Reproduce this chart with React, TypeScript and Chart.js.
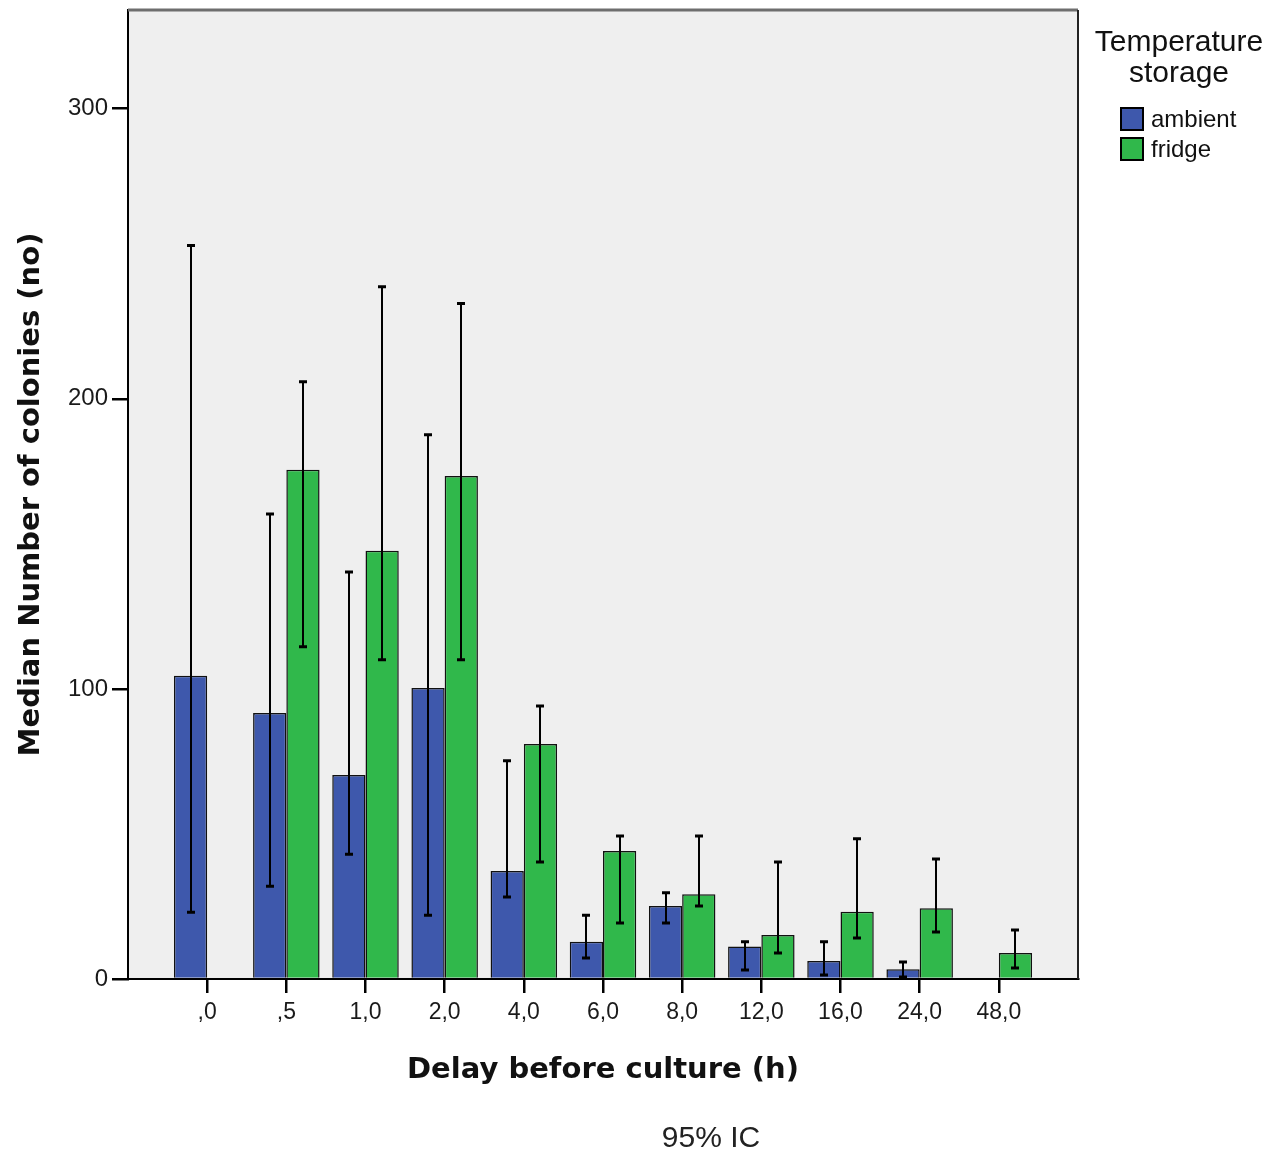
import React, { useEffect, useRef } from "react";
import { Chart, registerables } from "chart.js";

Chart.register(...registerables);

const categories = [",0", ",5", "1,0", "2,0", "4,0", "6,0", "8,0", "12,0", "16,0", "24,0", "48,0"];
const ambient = [104.5, 91.7, 70.3, 100.3, 37.2, 12.8, 25.2, 11.2, 6.2, 3.4, null];
const ambientLow = [23, 32, 43, 22, 28.3, 7.2, 19.3, 3.1, 1.4, 0.7, null];
const ambientHigh = [252.8, 160.3, 140.3, 187.6, 75.2, 22, 29.7, 12.8, 12.8, 5.9, null];
const fridge = [null, 175.5, 147.6, 173.4, 81, 44.1, 29.2, 15.2, 23.2, 24.4, 9];
const fridgeLow = [null, 114.5, 110, 110, 40.3, 19.3, 25.2, 9, 14.1, 16.2, 3.8];
const fridgeHigh = [null, 205.9, 238.6, 232.8, 94.1, 49.3, 49.3, 40.3, 48.3, 41.4, 16.9];
const yTicks = [0, 100, 200, 300];
const yMax = 334;

const seriesNames = ["ambient", "fridge"];
const seriesColors = ["#3e58ac", "#30b84b"];
const legendTitle = ["Temperature", "storage"];
const footerText = "95% IC";

const FONT = "'Liberation Sans', Arial, sans-serif";
const TITLE_FONT = "'DejaVu Sans', Verdana, sans-serif";

const pad = (arr: (number | null)[]) => [null, ...arr, null];

const errorBarPlugin = {
  id: "errorBars",
  afterDatasetsDraw(chart: any) {
    const { ctx } = chart;
    const yScale = chart.scales.y;
    const lows = [pad(ambientLow), pad(fridgeLow)];
    const highs = [pad(ambientHigh), pad(fridgeHigh)];
    ctx.save();
    ctx.strokeStyle = "#000";
    chart.data.datasets.forEach((_: any, di: number) => {
      const meta = chart.getDatasetMeta(di);
      meta.data.forEach((el: any, i: number) => {
        const lo = lows[di][i];
        const hi = highs[di][i];
        if (lo == null || hi == null) return;
        const x = Math.round(el.x);
        const yl = yScale.getPixelForValue(lo);
        const yh = yScale.getPixelForValue(hi);
        ctx.lineWidth = 2;
        ctx.beginPath();
        ctx.moveTo(x, yl);
        ctx.lineTo(x, yh);
        ctx.stroke();
        ctx.lineWidth = 3;
        ctx.beginPath();
        ctx.moveTo(x - 4, yl);
        ctx.lineTo(x + 4, yl);
        ctx.moveTo(x - 4, yh);
        ctx.lineTo(x + 4, yh);
        ctx.stroke();
      });
    });
    ctx.restore();
  },
};

const framePlugin = {
  id: "frame",
  beforeDraw(chart: any) {
    const { ctx, chartArea: a } = chart;
    ctx.save();
    ctx.fillStyle = "#ffffff";
    ctx.fillRect(0, 0, chart.width, chart.height);
    ctx.fillStyle = "#efefef";
    ctx.fillRect(a.left, a.top, a.right - a.left, a.bottom - a.top);
    ctx.restore();
  },
  afterDraw(chart: any) {
    const { ctx, chartArea: a } = chart;
    ctx.save();
    ctx.strokeStyle = "#6e6e6e";
    ctx.lineWidth = 3;
    ctx.beginPath();
    ctx.moveTo(a.left, a.top);
    ctx.lineTo(a.right, a.top);
    ctx.stroke();
    ctx.strokeStyle = "#222";
    ctx.lineWidth = 2;
    ctx.beginPath();
    ctx.moveTo(a.right, a.top);
    ctx.lineTo(a.right, a.bottom);
    ctx.stroke();

    // legend
    ctx.fillStyle = "#111";
    ctx.textAlign = "center";
    ctx.textBaseline = "middle";
    ctx.font = `30px ${FONT}`;
    ctx.fillText(legendTitle[0], 1179, 43);
    ctx.fillText(legendTitle[1], 1179, 74);
    ctx.textAlign = "left";
    ctx.font = `24px ${FONT}`;
    seriesNames.forEach((name, i) => {
      const y = 108 + i * 30;
      ctx.fillStyle = seriesColors[i];
      ctx.fillRect(1121, y, 22, 22);
      ctx.strokeStyle = "#000";
      ctx.lineWidth = 2;
      ctx.strokeRect(1121, y, 22, 22);
      ctx.fillStyle = "#111";
      ctx.fillText(name, 1151, y + 12);
    });

    // footer
    ctx.textAlign = "center";
    ctx.textBaseline = "alphabetic";
    ctx.font = `30px ${FONT}`;
    ctx.fillStyle = "#222";
    ctx.fillText(footerText, 711, 1147);
    ctx.restore();
  },
};

export default function App() {
  const ref = useRef<HTMLCanvasElement | null>(null);

  useEffect(() => {
    if (!ref.current) return;
    const labels = ["", ...categories, ""];
    const chart = new Chart(ref.current, {
      type: "bar",
      data: {
        labels,
        datasets: [
          {
            label: seriesNames[0],
            data: pad(ambient),
            backgroundColor: seriesColors[0],
            borderColor: "#111",
            borderWidth: 1.5,
            categoryPercentage: 0.84,
            barPercentage: 1.0,
          },
          {
            label: seriesNames[1],
            data: pad(fridge),
            backgroundColor: seriesColors[1],
            borderColor: "#111",
            borderWidth: 1.5,
            categoryPercentage: 0.84,
            barPercentage: 1.0,
          },
        ] as any,
      },
      options: {
        responsive: false,
        animation: false,
        devicePixelRatio: 1,
        layout: { padding: { top: 10, right: 204, left: 0, bottom: 0 } },
        plugins: {
          legend: { display: false },
          tooltip: { enabled: false },
        },
        scales: {
          x: {
            type: "category",
            offset: false,
            grid: {
              offset: false,
              drawOnChartArea: false,
              drawTicks: true,
              tickLength: 14,
              lineWidth: 2.5,
              color: (c: any) =>
                c.tick && c.tick.label !== "" ? "#000" : "rgba(0,0,0,0)",
            },
            border: { display: true, color: "#000", width: 2 },
            ticks: {
              autoSkip: false,
              maxRotation: 0,
              padding: 6,
              color: "#1a1a1a",
              font: { family: FONT, size: 23 },
            },
            title: {
              display: true,
              text: "Delay before culture (h)",
              color: "#111",
              font: { family: TITLE_FONT, size: 29, weight: "bold" },
              padding: { top: 0, bottom: 64 },
            },
            afterFit(scale: any) {
              scale.height = 1152 - 979;
              scale.paddingLeft = 0;
              scale.paddingRight = 0;
            },
          },
          y: {
            type: "linear",
            min: 0,
            max: yMax,
            grid: {
              drawOnChartArea: false,
              drawTicks: true,
              tickLength: 16,
              lineWidth: 2.5,
              color: "#000",
            },
            border: { display: true, color: "#000", width: 2 },
            ticks: {
              stepSize: 100,
              padding: 4,
              color: "#1a1a1a",
              font: { family: FONT, size: 24 },
            },
            afterBuildTicks(scale: any) {
              scale.ticks = yTicks.map((v) => ({ value: v }));
            },
            title: {
              display: true,
              text: "Median Number of colonies (no)",
              color: "#111",
              font: { family: TITLE_FONT, size: 29, weight: "bold" },
              padding: { top: 14, bottom: 0 },
            },
            afterFit(scale: any) {
              scale.width = 128;
              scale.paddingTop = 0;
              scale.paddingBottom = 0;
            },
          },
        },
      } as any,
      plugins: [framePlugin, errorBarPlugin],
    });
    return () => chart.destroy();
  }, []);

  return (
    <div style={{ position: "fixed", left: 0, top: 0, width: 1282, height: 1152, background: "#fff" }}>
      <canvas ref={ref} width={1282} height={1152} style={{ display: "block" }} />
    </div>
  );
}
